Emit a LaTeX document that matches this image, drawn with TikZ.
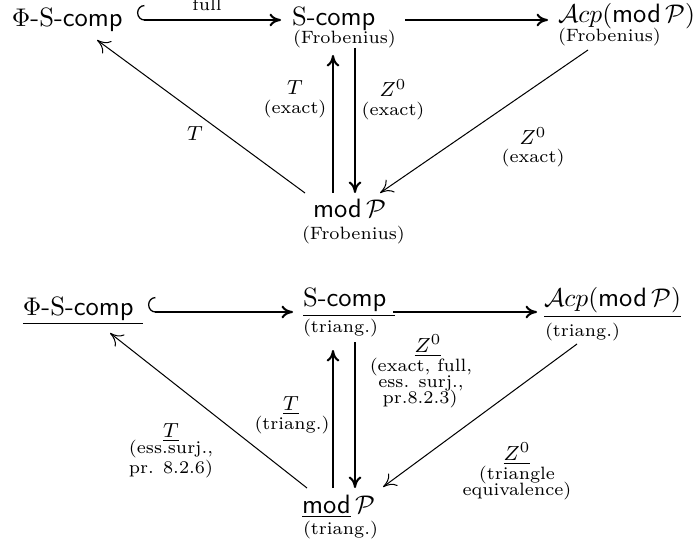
\documentclass[tikz,border=0pt]{standalone}
\usetikzlibrary{arrows.meta,calc}
\begin{document}
\begin{tikzpicture}[x=0.392pt,y=-0.392pt,
  mainnode/.style={anchor=base west,inner sep=0pt,outer sep=0pt,font=\fontsize{10.4}{12.5}\selectfont},
  subnode/.style={anchor=base west,inner sep=0pt,outer sep=0pt,font=\scriptsize},
  labnode/.style={anchor=base,inner sep=0pt,outer sep=0pt,font=\scriptsize},
  mathlab/.style={anchor=base,inner sep=0pt,outer sep=0pt,font=\footnotesize},
  thk/.style={line width=0.8pt},
  thn/.style={line width=0.4pt},
  tip/.style={-{To[length=4.5pt,width=5pt]}},
  tipthin/.style={-{To[length=5pt,width=6pt]}},
  hk/.style={{Hooks[right,length=2.9pt,width=11.8pt,line width=0.5pt]}-{To[length=4.5pt,width=5pt]}}
]
\useasboundingbox (0,0) rectangle (699,548);
% ---------- top diagram ----------
\node[mainnode] (phi1) at (12,27) {$\Phi$-S-\textsf{comp}};
\node[mainnode] (sc1) at (292,26) {S-\textsf{comp}};
\node[subnode] (fr1) at (293,44) {(Frobenius)};
\node[mainnode] (acp1) at (558,23) {$\mathcal{A}cp(\textsf{mod}\,\mathcal{P})$};
\node[subnode] (fr2) at (558,42) {(Frobenius)};
\node[mainnode] (mp1) at (313,218) {\textsf{mod}\,$\mathcal{P}$};
\node[subnode] (fr3) at (302,240) {(Frobenius)};

\node[labnode] (full) at (207,11) {full};
\node[mathlab] (t1) at (195,141) {$T$};
\node[mathlab] (t2) at (295,95) {$T$};
\node[labnode] (t2x) at (295,114) {(exact)};
\node[mathlab] (z1) at (393,97) {$Z^0$};
\node[labnode] (z1x) at (393,116) {(exact)};
\node[mathlab] (z2) at (533,145) {$Z^0$};
\node[labnode] (z2x) at (533,163) {(exact)};

\draw[thk,hk] ($(phi1.base west)+(125,-7)$) -- ($(sc1.base west)+(-11,-6)$);
\draw[thk,tip] ($(sc1.base west)+(113,-6)$) -- ($(acp1.base west)+(-10,-3)$);
\draw[thk,tip] ($(mp1.base west)+(20,-25)$) -- ($(sc1.base west)+(41,29)$);
\draw[thk,tip] ($(sc1.base west)+(63,22)$) -- ($(mp1.base west)+(42,-25)$);
\draw[thn,tipthin] ($(mp1.base west)+(-8,-25)$) -- ($(phi1.base west)+(85,13)$);
\draw[thn,tipthin] ($(acp1.base west)+(30,27)$) -- ($(mp1.base west)+(67,-25)$);

% ---------- bottom diagram ----------
\node[mainnode] (phi2) at (23,315) {\underline{$\Phi$-S-\textsf{comp}\ }};
\node[mainnode] (sc2) at (303,307) {\underline{S-\textsf{comp}\ }};
\node[subnode] (tr1) at (303,332) {(triang.)};
\node[mainnode] (acp2) at (544,307) {\underline{$\mathcal{A}cp(\textsf{mod}\,\mathcal{P})$}};
\node[subnode] (tr2) at (545,336) {(triang.)};
\node[mainnode] (mp2) at (302,513) {\underline{\textsf{mod}}\,$\mathcal{P}$};
\node[subnode] (tr3) at (303,534) {(triang.)};

\node[mathlab] (t3) at (171,437) {$\underline{T}$};
\node[labnode] (t3a) at (171,453) {(ess.surj.,};
\node[labnode] (t3b) at (171,473) {pr. 8.2.6)};
\node[mathlab] (t4) at (291,410) {$\underline{T}$};
\node[labnode] (t4x) at (292,429) {(triang.)};
\node[mathlab] (z3) at (428,352) {$\underline{Z^0}$};
\node[labnode] (z3a) at (421,371) {(exact, full,};
\node[labnode] (z3b) at (421,387) {ess. surj.,};
\node[labnode] (z3c) at (420,403) {pr.8.2.3)};
\node[mathlab] (z4) at (517,460) {$\underline{Z^0}$};
\node[labnode] (z4a) at (517,479) {(triangle};
\node[labnode] (z4b) at (517,495) {equivalence)};

\draw[thk,hk] ($(phi2.base west)+(125,-3)$) -- ($(sc2.base west)+(-10,5)$);
\draw[thk,tip] ($(sc2.base west)+(90,5)$) -- ($(acp2.base west)+(-7,5)$);
\draw[thk,tip] ($(mp2.base west)+(31,-25)$) -- ($(sc2.base west)+(30,43)$);
\draw[thk,tip] ($(sc2.base west)+(52,35)$) -- ($(mp2.base west)+(53,-25)$);
\draw[thn,tipthin] ($(mp2.base west)+(5,-25)$) -- ($(phi2.base west)+(87,18)$);
\draw[thn,tipthin] ($(acp2.base west)+(33,37)$) -- ($(mp2.base west)+(81,-26)$);
\end{tikzpicture}
\end{document}
